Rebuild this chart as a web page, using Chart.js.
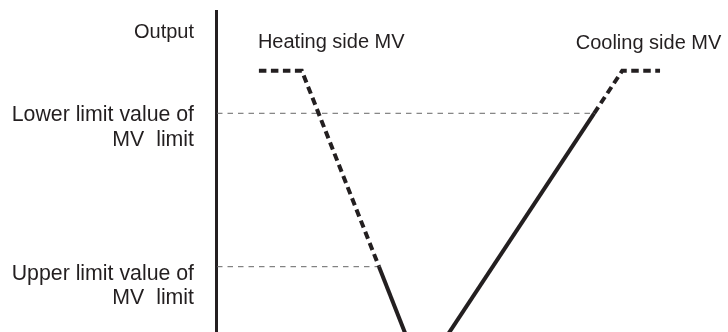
<!DOCTYPE html>
<html>
<head>
<meta charset="utf-8">
<script src="https://cdn.jsdelivr.net/npm/chart.js@4/dist/chart.umd.min.js"></script>
<style>
  html, body { margin: 0; padding: 0; background: #ffffff; }
  #wrap { width: 728px; height: 332px; position: relative; }
</style>
</head>
<body>
<div id="wrap"><canvas id="c"></canvas></div>
<script>
// Heating / cooling manipulated-variable characteristic with MV limits
const axisTitle = "Output";
const seriesNames = ["Heating side MV", "Cooling side MV"];

// Deviation (x) and output (y) of each characteristic line
const heatingX = [8.2, 16.6, 31.7, 40];
const heatingY = [100, 100, 35.5, 0];
const coolingX = [40, 73.8, 79.3, 86.7];
const coolingY = [0, 86, 100, 100];

// MV limit levels and their labels
const limitValues = [86, 35.5];
const limitLabels = [["Lower limit value of", "MV  limit"], ["Upper limit value of", "MV  limit"]];
// Where each limit guide meets its characteristic line
const limitReachX = [coolingX[1], heatingX[2]];

const INK = "#231f20";
const GUIDE = "#666666";
const FAMILY = "'Liberation Sans', Arial, Helvetica, sans-serif";
const TITLE_FONT = "20px " + FAMILY;
const LIMIT_FONT = "21.3px " + FAMILY;

const toPoints = (xs, ys) => xs.map((x, i) => ({ x, y: ys[i] }));

// A line is dashed where it runs beyond its MV limit
const dashedAbove = (limit) => (ctx) =>
  Math.min(ctx.p0.parsed.y, ctx.p1.parsed.y) >= limit - 1e-6 ? [7.5, 4.5] : [];

const guideSets = limitValues.map((v, i) => ({
  data: [{ x: 0, y: v }, { x: limitReachX[i], y: v }],
  borderColor: GUIDE,
  borderWidth: 1,
  borderDash: [5.5, 5],
  pointRadius: 0,
  fill: false
}));

const textPlugin = {
  id: "diagramText",
  beforeDatasetsDraw(chart) {
    const { ctx, chartArea, scales } = chart;
    const x0 = scales.x.getPixelForValue(0) - 0.5;
    ctx.save();
    ctx.strokeStyle = INK;
    ctx.lineWidth = 3;
    ctx.beginPath();
    ctx.moveTo(x0, chartArea.top);
    ctx.lineTo(x0, chartArea.bottom);
    ctx.stroke();
    ctx.restore();
  },
  afterDraw(chart) {
    const { ctx, scales } = chart;
    const xs = scales.x, ys = scales.y;
    const rightEdge = xs.getPixelForValue(0) - 23;
    ctx.save();
    ctx.fillStyle = INK;
    ctx.textBaseline = "alphabetic";

    ctx.font = TITLE_FONT;
    ctx.textAlign = "right";
    ctx.fillText(axisTitle, rightEdge, 37.5);

    ctx.textAlign = "left";
    ctx.fillText(seriesNames[0], xs.getPixelForValue(8.0), 48);
    ctx.fillText(seriesNames[1], xs.getPixelForValue(70.2), 49);

    ctx.font = LIMIT_FONT;
    ctx.textAlign = "right";
    const offsets = [8, 13];
    limitValues.forEach((v, i) => {
      const yp = ys.getPixelForValue(v) + offsets[i];
      limitLabels[i].forEach((line, j) => {
        ctx.fillText(line, rightEdge, yp + j * 24.5);
      });
    });
    ctx.restore();
  }
};

new Chart(document.getElementById("c"), {
  type: "line",
  data: {
    datasets: [
      {
        label: seriesNames[0],
        data: toPoints(heatingX, heatingY),
        borderColor: INK,
        borderWidth: 4,
        borderCapStyle: "butt",
        borderJoinStyle: "miter",
        pointRadius: 0,
        fill: false,
        segment: { borderDash: dashedAbove(limitValues[1]) }
      },
      {
        label: seriesNames[1],
        data: toPoints(coolingX, coolingY),
        borderColor: INK,
        borderWidth: 4,
        borderCapStyle: "butt",
        borderJoinStyle: "miter",
        pointRadius: 0,
        fill: false,
        segment: { borderDash: dashedAbove(limitValues[0]) }
      },
      ...guideSets
    ]
  },
  options: {
    responsive: true,
    maintainAspectRatio: false,
    animation: false,
    events: [],
    layout: { padding: { left: 217, top: 10, right: 0, bottom: 0 } },
    plugins: { legend: { display: false }, tooltip: { enabled: false } },
    scales: {
      x: { type: "linear", min: 0, max: 100, display: false },
      y: { type: "linear", min: 14, max: 120, display: false }
    }
  },
  plugins: [textPlugin]
});
</script>
</body>
</html>
